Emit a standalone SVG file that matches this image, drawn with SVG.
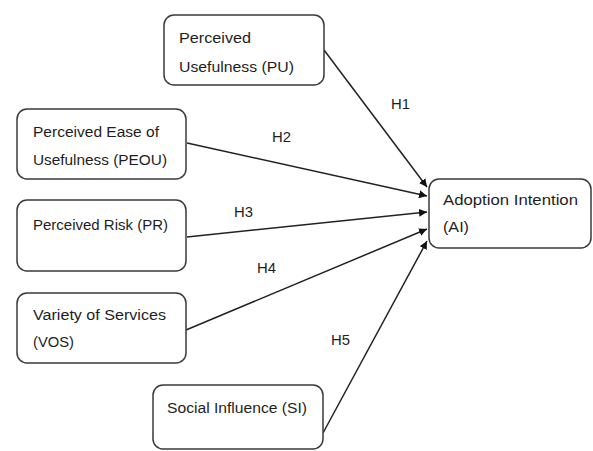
<svg xmlns="http://www.w3.org/2000/svg" width="593" height="451" viewBox="0 0 593 451">
<defs>
<style>
.box{fill:#fff;stroke:#3a3a3a;stroke-width:1.5}
.t{font-family:"Liberation Sans",Arial,sans-serif;font-size:15.5px;fill:#1e1e1e}
.c{stroke:#222;stroke-width:1.5;fill:none;marker-end:url(#ah)}
</style>
<marker id="ah" viewBox="0 0 10 10" refX="10" refY="5" markerWidth="8" markerHeight="8" markerUnits="userSpaceOnUse" orient="auto">
<path d="M0,0 L10,5 L0,10 z" fill="#111"/>
</marker>
</defs>
<rect width="593" height="451" fill="#fff"/>
<g id="connectors">
<line class="c" x1="324" y1="50" x2="427" y2="187"/>
<line class="c" x1="187" y1="143" x2="427" y2="196"/>
<line class="c" x1="187" y1="237" x2="427" y2="212"/>
<line class="c" x1="186" y1="330" x2="427" y2="229"/>
<line class="c" x1="323" y1="433" x2="427" y2="241"/>
<text class="t" x="391" y="109" textLength="19" lengthAdjust="spacingAndGlyphs">H1</text>
<text class="t" x="272" y="142" textLength="19" lengthAdjust="spacingAndGlyphs">H2</text>
<text class="t" x="234" y="217" textLength="19" lengthAdjust="spacingAndGlyphs">H3</text>
<text class="t" x="257" y="273" textLength="19" lengthAdjust="spacingAndGlyphs">H4</text>
<text class="t" x="331" y="345" textLength="19" lengthAdjust="spacingAndGlyphs">H5</text>
</g>
<g id="pu">
<rect class="box" x="164" y="15" width="160" height="70" rx="10"/>
<text class="t" x="179" y="43" textLength="72" lengthAdjust="spacingAndGlyphs">Perceived</text>
<text class="t" x="179" y="72" textLength="115" lengthAdjust="spacingAndGlyphs">Usefulness (PU)</text>
</g>
<g id="peou">
<rect class="box" x="17" y="109" width="169" height="70" rx="10"/>
<text class="t" x="33" y="137" textLength="126" lengthAdjust="spacingAndGlyphs">Perceived Ease of</text>
<text class="t" x="33" y="165" textLength="134" lengthAdjust="spacingAndGlyphs">Usefulness (PEOU)</text>
</g>
<g id="pr">
<rect class="box" x="17" y="200" width="169" height="71" rx="10"/>
<text class="t" x="33" y="230" textLength="135" lengthAdjust="spacingAndGlyphs">Perceived Risk (PR)</text>
</g>
<g id="vos">
<rect class="box" x="17" y="293" width="169" height="70" rx="10"/>
<text class="t" x="33" y="320" textLength="133" lengthAdjust="spacingAndGlyphs">Variety of Services</text>
<text class="t" x="33" y="347" textLength="41" lengthAdjust="spacingAndGlyphs">(VOS)</text>
</g>
<g id="si">
<rect class="box" x="153" y="385" width="170" height="64" rx="10"/>
<text class="t" x="167" y="413" textLength="140" lengthAdjust="spacingAndGlyphs">Social Influence (SI)</text>
</g>
<g id="ai">
<rect class="box" x="429" y="179" width="162" height="69" rx="10"/>
<text class="t" x="443" y="205" textLength="135" lengthAdjust="spacingAndGlyphs">Adoption Intention</text>
<text class="t" x="443" y="232" textLength="26" lengthAdjust="spacingAndGlyphs">(AI)</text>
</g>
</svg>
